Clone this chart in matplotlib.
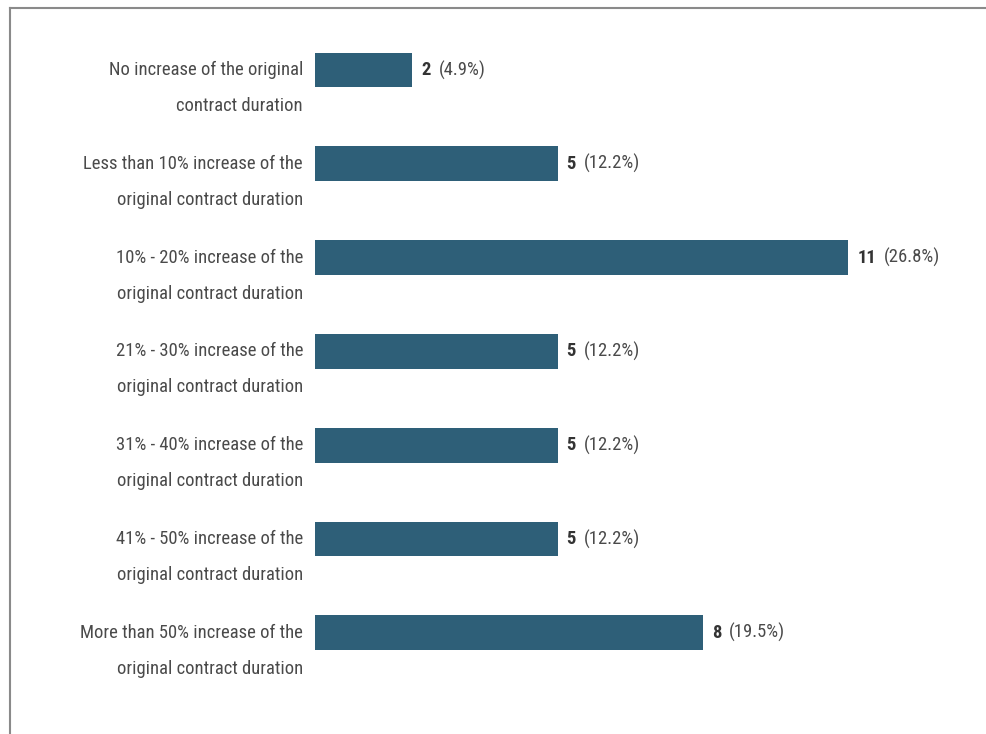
import matplotlib
matplotlib.use("Agg")
import matplotlib.pyplot as plt
from matplotlib import font_manager
from matplotlib.lines import Line2D

labels_top = ["No increase of the original",
              "Less than 10% increase of the",
              "10% - 20% increase of the",
              "21% - 30% increase of the",
              "31% - 40% increase of the",
              "41% - 50% increase of the",
              "More than 50% increase of the"]
labels_bottom = ["contract duration",
                 "original contract duration",
                 "original contract duration",
                 "original contract duration",
                 "original contract duration",
                 "original contract duration",
                 "original contract duration"]
counts = [2, 5, 11, 5, 5, 5, 8]
percents = ["4.9%", "12.2%", "26.8%", "12.2%", "12.2%", "12.2%", "19.5%"]

bar_color = "#2e5f78"
text_color = "#4a4a4a"

# pick a narrow font if one is around
fonts = font_manager.fontManager.ttflist
stretch = "normal"
family = "Roboto"
for name in ["Roboto Condensed", "Liberation Sans Narrow", "Open Sans Condensed"]:
    if any(f.name == name for f in fonts):
        family = name
        break
else:
    if any(f.name == "DejaVu Sans" and f.stretch == "condensed" for f in fonts):
        family = "DejaVu Sans"
        stretch = "condensed"
plt.rcParams["font.family"] = [family, "DejaVu Sans"]
plt.rcParams["font.stretch"] = stretch

fig = plt.figure(figsize=(9.87, 7.34), dpi=100)
r = fig.canvas.get_renderer()

# size the text so the long label is as wide as in the picture (~220 px)
probe = fig.text(0, 0, "Less than 10% increase of the", fontsize=15)
w = probe.get_window_extent(renderer=r).width
probe.remove()
fs = 15 * 220 / w

ax = fig.add_axes([315 / 987, 0, 1 - 315 / 987, 1])
ypos = list(range(len(counts)))
ax.barh(ypos, counts, height=0.37, color=bar_color)
ax.set_xlim(0, 672 / 48.5)
ax.set_ylim((734 - 70) / 93.8, -70 / 93.8)
ax.axis("off")

for i, (c, p) in enumerate(zip(counts, percents)):
    ax.text(-12 / 48.5, i, labels_top[i], ha="right", va="center",
            fontsize=fs, color=text_color)
    ax.text(-12 / 48.5, i + 36 / 93.8, labels_bottom[i], ha="right", va="center",
            fontsize=fs, color=text_color)
    t = ax.text(c + 9 / 48.5, i, str(c), ha="left", va="center",
                fontsize=fs, fontweight="bold", color="#333333")
    bb = t.get_window_extent(renderer=r)
    xd = ax.transData.inverted().transform((bb.x1 + 8, 0))[0]
    ax.text(xd, i, "(" + p + ")", ha="left", va="center",
            fontsize=fs, color=text_color)

# frame lines (top and left)
fig.add_artist(Line2D([10 / 987, 1], [1 - 8 / 734, 1 - 8 / 734],
                      transform=fig.transFigure, color="#8a8a8a", lw=1.5))
fig.add_artist(Line2D([10 / 987, 10 / 987], [0, 1 - 8 / 734],
                      transform=fig.transFigure, color="#8a8a8a", lw=1.5))

fig.savefig("out.png", dpi=100)
